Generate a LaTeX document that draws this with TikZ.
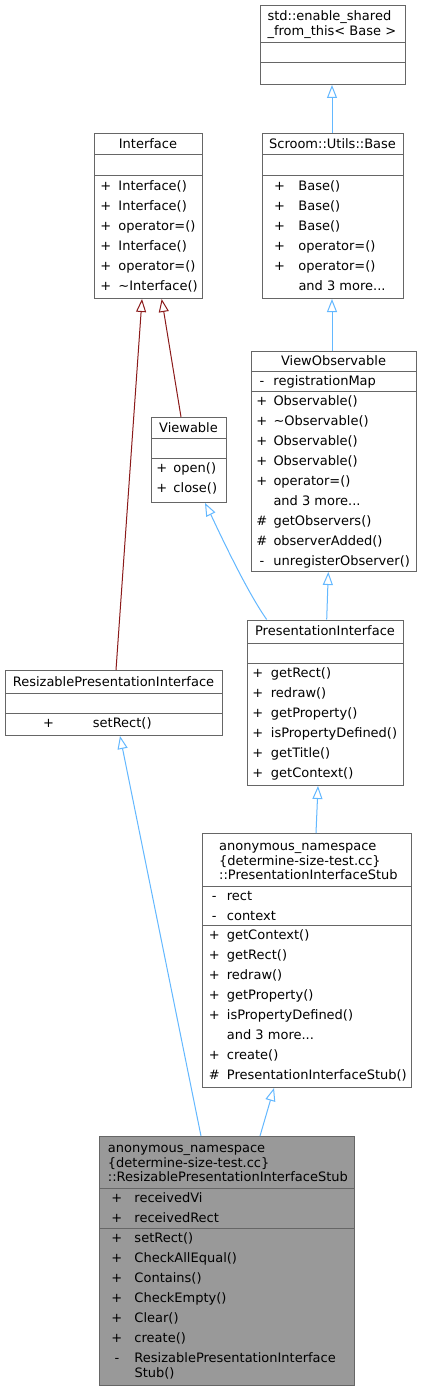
\documentclass[tikz,border=0pt]{standalone}
\usepackage{fontspec}
\setmainfont{DejaVu Sans}
\usetikzlibrary{arrows.meta}
\definecolor{edgeblue}{HTML}{63B8FF}
\definecolor{edgered}{HTML}{8B1A1A}
\definecolor{boxline}{HTML}{666666}
\definecolor{boxgray}{HTML}{999999}
\newcommand{\fs}{\fontsize{13pt}{14.3pt}\selectfont}
\newcommand{\rw}[3]{\makebox[0pt][c]{#1}\hspace{#2}#3}
\begin{document}
\begin{tikzpicture}[x=1pt,y=-1pt,
  cls/.style={draw=boxline,line width=1pt,fill=white,inner sep=0pt,anchor=north west},
  sepline/.style={draw=boxline,line width=1pt},
  rt/.style={anchor=base west,inner sep=0pt,font=\fs},
  tt/.style={anchor=base,inner sep=0pt,font=\fs},
  pub/.style={draw=edgeblue,line width=1pt,-{Triangle[open,length=13pt,width=10pt]}},
  virt/.style={draw=edgered,line width=1pt,-{Triangle[open,length=13pt,width=10pt]}}]
\fill[white] (0,0) rectangle (420,1391);
\useasboundingbox (0,0) rectangle (420,1391);

% std::enable_shared_from_this
\node[cls,minimum width=145pt,minimum height=79pt] (E) at (260,5) {};
\draw[sepline] ([yshift=-38pt]E.north west) -- ([yshift=-38pt]E.north east);
\draw[sepline] ([yshift=-58pt]E.north west) -- ([yshift=-58pt]E.north east);
\node[rt] (Et1) at (267.3,21) {std::enable\_shared};
\node[rt] (Et2) at (267.3,36) {\_from\_this< Base >};

% Scroom::Utils::Base
\node[cls,minimum width=141pt,minimum height=165pt] (B) at (262,133) {};
\draw[sepline] ([yshift=-21.5pt]B.north west) -- ([yshift=-21.5pt]B.north east);
\draw[sepline] ([yshift=-43pt]B.north west) -- ([yshift=-43pt]B.north east);
\node[tt] (Bt) at (332.5,149) {Scroom::Utils::Base};
\node[rt] (B1) at (279.3,190.5) {\rw{+}{19pt}{Base()}};
\node[rt] (B2) at (279.3,210.5) {\rw{+}{19pt}{Base()}};
\node[rt] (B3) at (279.3,230.5) {\rw{+}{19pt}{Base()}};
\node[rt] (B4) at (279.3,250.5) {\rw{+}{19pt}{operator=()}};
\node[rt] (B5) at (279.3,270.5) {\rw{+}{19pt}{operator=()}};
\node[rt] (B6) at (279.3,290.5) {\rw{}{19pt}{and 3 more...}};

% Interface
\node[cls,minimum width=108pt,minimum height=165pt] (I) at (94,133) {};
\draw[sepline] ([yshift=-21.5pt]I.north west) -- ([yshift=-21.5pt]I.north east);
\draw[sepline] ([yshift=-43pt]I.north west) -- ([yshift=-43pt]I.north east);
\node[tt] (It) at (148,149) {Interface};
\node[rt] (I1) at (105.7,190.5) {\rw{+}{12.6pt}{Interface()}};
\node[rt] (I2) at (105.7,210.5) {\rw{+}{12.6pt}{Interface()}};
\node[rt] (I3) at (105.7,230.5) {\rw{+}{12.6pt}{operator=()}};
\node[rt] (I4) at (105.7,250.5) {\rw{+}{12.6pt}{Interface()}};
\node[rt] (I5) at (105.7,270.5) {\rw{+}{12.6pt}{operator=()}};
\node[rt] (I6) at (105.7,290.5) {\rw{+}{12.6pt}{\textasciitilde Interface()}};

% ViewObservable
\node[cls,minimum width=165pt,minimum height=220pt] (VO) at (251,351) {};
\draw[sepline] ([yshift=-20pt]VO.north west) -- ([yshift=-20pt]VO.north east);
\draw[sepline] ([yshift=-40pt]VO.north west) -- ([yshift=-40pt]VO.north east);
\node[tt] (VOt) at (333.5,365.5) {ViewObservable};
\node[rt] (VOa) at (261.7,385.5) {\rw{-}{11.6pt}{registrationMap}};
\node[rt] (VO1) at (261.7,405.5) {\rw{+}{11.6pt}{Observable()}};
\node[rt] (VO2) at (261.7,425.5) {\rw{+}{11.6pt}{\textasciitilde Observable()}};
\node[rt] (VO3) at (261.7,445.5) {\rw{+}{11.6pt}{Observable()}};
\node[rt] (VO4) at (261.7,465.5) {\rw{+}{11.6pt}{Observable()}};
\node[rt] (VO5) at (261.7,485.5) {\rw{+}{11.6pt}{operator=()}};
\node[rt] (VO6) at (261.7,505.5) {\rw{}{11.6pt}{and 3 more...}};
\node[rt] (VO7) at (261.7,525.5) {\rw{\#}{11.6pt}{getObservers()}};
\node[rt] (VO8) at (261.7,545.5) {\rw{\#}{11.6pt}{observerAdded()}};
\node[rt] (VO9) at (261.7,565.5) {\rw{-}{11.6pt}{unregisterObserver()}};

% Viewable
\node[cls,minimum width=75pt,minimum height=85pt] (V) at (151,417) {};
\draw[sepline] ([yshift=-21pt]V.north west) -- ([yshift=-21pt]V.north east);
\draw[sepline] ([yshift=-41pt]V.north west) -- ([yshift=-41pt]V.north east);
\node[tt] (Vt) at (188.5,432) {Viewable};
\node[rt] (V1) at (161.7,472.5) {\rw{+}{11.6pt}{open()}};
\node[rt] (V2) at (161.7,492.5) {\rw{+}{11.6pt}{close()}};

% PresentationInterface
\node[cls,minimum width=156pt,minimum height=165.5pt] (PI) at (247,619.5) {};
\draw[sepline] ([yshift=-23.5pt]PI.north west) -- ([yshift=-23.5pt]PI.north east);
\draw[sepline] ([yshift=-43.5pt]PI.north west) -- ([yshift=-43.5pt]PI.north east);
\node[tt] (PIt) at (325,635.5) {PresentationInterface};
\node[rt] (PI1) at (257.7,677.5) {\rw{+}{13pt}{getRect()}};
\node[rt] (PI2) at (257.7,697.5) {\rw{+}{13pt}{redraw()}};
\node[rt] (PI3) at (257.7,717.5) {\rw{+}{13pt}{getProperty()}};
\node[rt] (PI4) at (257.7,737.5) {\rw{+}{13pt}{isPropertyDefined()}};
\node[rt] (PI5) at (257.7,757.5) {\rw{+}{13pt}{getTitle()}};
\node[rt] (PI6) at (257.7,777.5) {\rw{+}{13pt}{getContext()}};

% ResizablePresentationInterface
\node[cls,minimum width=217pt,minimum height=65pt] (RPI) at (5,670) {};
\draw[sepline] ([yshift=-23pt]RPI.north west) -- ([yshift=-23pt]RPI.north east);
\draw[sepline] ([yshift=-43pt]RPI.north west) -- ([yshift=-43pt]RPI.north east);
\node[tt] (RPIt) at (113.5,686) {ResizablePresentationInterface};
\node[rt] (RPI1) at (48.3,727.5) {\rw{+}{44.4pt}{setRect()}};

% anonymous_namespace::PresentationInterfaceStub
\node[cls,minimum width=209pt,minimum height=254pt] (PIS) at (202,833) {};
\draw[sepline] ([yshift=-53pt]PIS.north west) -- ([yshift=-53pt]PIS.north east);
\draw[sepline] ([yshift=-92pt]PIS.north west) -- ([yshift=-92pt]PIS.north east);
\node[rt] (PISt1) at (219,850.5) {anonymous\_namespace};
\node[rt] (PISt2) at (219,865) {\{determine-size-test.cc\}};
\node[rt] (PISt3) at (219,879.5) {::PresentationInterfaceStub};
\node[rt] (PISa1) at (214,900) {\rw{-}{12.7pt}{rect}};
\node[rt] (PISa2) at (214,920) {\rw{-}{12.7pt}{context}};
\node[rt] (PIS1) at (214,939.5) {\rw{+}{12.7pt}{getContext()}};
\node[rt] (PIS2) at (214,959.5) {\rw{+}{12.7pt}{getRect()}};
\node[rt] (PIS3) at (214,979.5) {\rw{+}{12.7pt}{redraw()}};
\node[rt] (PIS4) at (214,999.5) {\rw{+}{12.7pt}{getProperty()}};
\node[rt] (PIS5) at (214,1019.5) {\rw{+}{12.7pt}{isPropertyDefined()}};
\node[rt] (PIS6) at (214,1039.5) {\rw{}{12.7pt}{and 3 more...}};
\node[rt] (PIS7) at (214,1059.5) {\rw{+}{12.7pt}{create()}};
\node[rt] (PIS8) at (214,1079.5) {\rw{\#}{12.7pt}{PresentationInterfaceStub()}};

% anonymous_namespace::ResizablePresentationInterfaceStub
\node[cls,fill=boxgray,minimum width=255pt,minimum height=249pt] (RPIS) at (99,1136) {};
\draw[sepline] ([yshift=-52pt]RPIS.north west) -- ([yshift=-52pt]RPIS.north east);
\draw[sepline] ([yshift=-92pt]RPIS.north west) -- ([yshift=-92pt]RPIS.north east);
\node[rt] (RPISt1) at (107.7,1152.5) {anonymous\_namespace};
\node[rt] (RPISt2) at (107.7,1167) {\{determine-size-test.cc\}};
\node[rt] (RPISt3) at (107.7,1181.5) {::ResizablePresentationInterfaceStub};
\node[rt] (RPISa1) at (116.7,1202.5) {\rw{+}{17.6pt}{receivedVi}};
\node[rt] (RPISa2) at (116.7,1222.5) {\rw{+}{17.6pt}{receivedRect}};
\node[rt] (RPIS1) at (116.7,1242.5) {\rw{+}{17.6pt}{setRect()}};
\node[rt] (RPIS2) at (116.7,1262.5) {\rw{+}{17.6pt}{CheckAllEqual()}};
\node[rt] (RPIS3) at (116.7,1282.5) {\rw{+}{17.6pt}{Contains()}};
\node[rt] (RPIS4) at (116.7,1302.5) {\rw{+}{17.6pt}{CheckEmpty()}};
\node[rt] (RPIS5) at (116.7,1322.5) {\rw{+}{17.6pt}{Clear()}};
\node[rt] (RPIS6) at (116.7,1342.5) {\rw{+}{17.6pt}{create()}};
\node[rt] (RPIS7) at (116.7,1362.5) {\rw{-}{17.6pt}{ResizablePresentationInterface}};
\node[rt] (RPIS8) at (116.7,1377) {\rw{}{17.6pt}{Stub()}};

% inheritance connectors
\draw[pub] ([xshift=70pt]B.north west) -- ([xshift=72pt]E.south west);
\draw[pub] ([xshift=81pt]VO.north west) -- ([xshift=70pt]B.south west);
\draw[virt] ([xshift=30pt]V.north west) -- ([xshift=67.7pt]I.south west);
\draw[virt] ([xshift=111pt]RPI.north west) -- ([xshift=48pt]I.south west);
\draw[pub] ([xshift=19.7pt]PI.north west) .. controls (245,589) and (214,521) .. ([xshift=54pt]V.south west);
\draw[pub] ([xshift=79.7pt]PI.north west) -- ([xshift=77.3pt]VO.south west);
\draw[pub] ([xshift=114pt]PIS.north west) -- ([xshift=71pt]PI.south west);
\draw[pub] ([xshift=102pt]RPIS.north west) -- ([xshift=115pt]RPI.south west);
\draw[pub] ([xshift=161pt]RPIS.north west) -- ([xshift=72pt]PIS.south west);
\end{tikzpicture}
\end{document}
